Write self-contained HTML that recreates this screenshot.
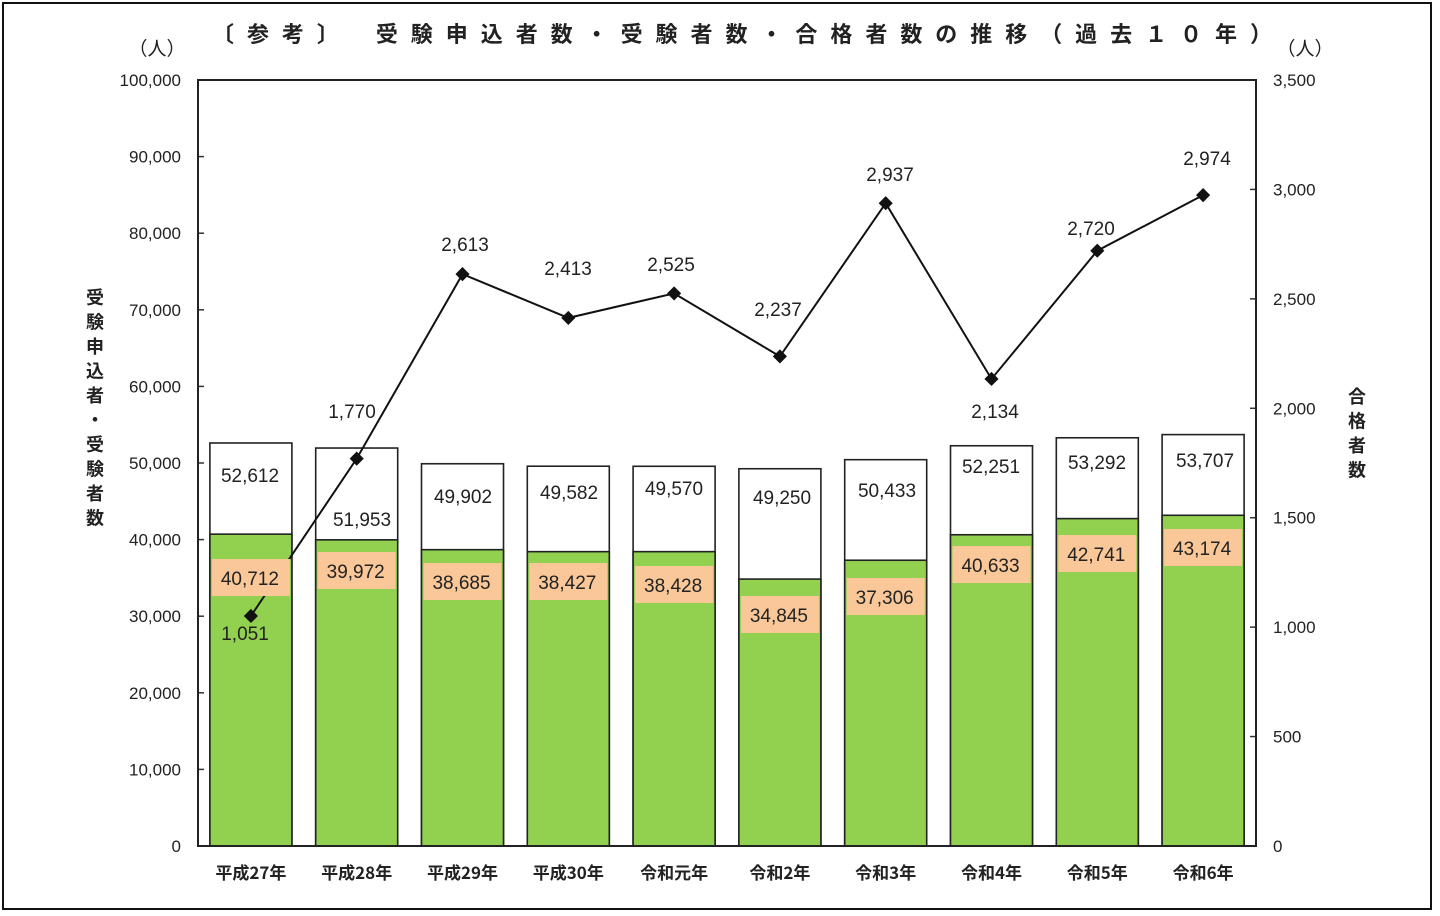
<!DOCTYPE html>
<html><head><meta charset="utf-8"><style>
html,body{margin:0;padding:0;background:#fff;}
svg{display:block;font-family:"Liberation Sans","Noto Sans CJK JP",sans-serif;}
</style></head><body>
<svg id="c" width="1440" height="916" viewBox="0 0 1440 916" xmlns="http://www.w3.org/2000/svg">
<rect x="3" y="3" width="1428" height="906" fill="#fff" stroke="#111" stroke-width="2"/>
<text x="212" y="42" font-size="22" font-weight="bold" fill="#222" textLength="1060" lengthAdjust="spacing" font-family="'Noto Sans CJK JP',sans-serif">〔参考〕　受験申込者数・受験者数・合格者数の推移（過去１０年）</text>
<text x="157" y="55" font-size="19" fill="#222" text-anchor="middle" font-family="'Noto Sans CJK JP',sans-serif">（人）</text>
<text x="1305" y="55" font-size="19" fill="#222" text-anchor="middle" font-family="'Noto Sans CJK JP',sans-serif">（人）</text>
<g id="g"></g>
</svg>
<script>
const g=document.getElementById('g');let s='';
const L=198,R=1256,T=80,B=846,H=766;
const yl=v=>B-v*H/100000, yr=v=>B-v*H/3500;
// left ticks
for(let i=0;i<=10;i++){const y=yl(i*10000);
 s+=`<text x="181" y="${y+6}" font-size="17" fill="#222" text-anchor="end">${(i*10000).toLocaleString('en-US')}</text>`;
 s+=`<line x1="${L}" y1="${y}" x2="${L+6}" y2="${y}" stroke="#333" stroke-width="1.5"/>`;}
for(let i=0;i<=7;i++){const v=i*500,y=yr(v);
 s+=`<text x="1273" y="${y+6}" font-size="17" fill="#222">${v.toLocaleString('en-US')}</text>`;
 s+=`<line x1="${R-6}" y1="${y}" x2="${R}" y2="${y}" stroke="#333" stroke-width="1.5"/>`;}
const cats=['平成27年','平成28年','平成29年','平成30年','令和元年','令和2年','令和3年','令和4年','令和5年','令和6年'];
const tot=[52612,51953,49902,49582,49570,49250,50433,52251,53292,53707];
const ex=[40712,39972,38685,38427,38428,34845,37306,40633,42741,43174];
const ps=[1051,1770,2613,2413,2525,2237,2937,2134,2720,2974];
const oy=[578,571,582,582,585,615,597,565,554,548];
const wl=[[250,475],[362,519],[463,496],[569,492],[674,488],[782,497],[887,490],[991,466],[1097,462],[1205,460]];
const pl=[[245,633],[352,411],[465,244],[568,268],[671,264],[778,309],[890,174],[995,411],[1091,228],[1207,158]];
const cx=i=>L+105.8*(i+0.5);
let bars='',labs='',pts=[];
for(let i=0;i<10;i++){const x=cx(i)-41;
 bars+=`<rect x="${x}" y="${yl(tot[i])}" width="82" height="${B-yl(tot[i])}" fill="#fff" stroke="#222" stroke-width="1.6"/>`;
 bars+=`<rect x="${x}" y="${yl(ex[i])}" width="82" height="${B-yl(ex[i])}" fill="#92d050" stroke="#222" stroke-width="1.6"/>`;
 bars+=`<text x="${wl[i][0]}" y="${wl[i][1]+7}" font-size="19" fill="#222" text-anchor="middle">${tot[i].toLocaleString('en-US')}</text>`;
 labs+=`<rect x="${cx(i)-39}" y="${oy[i]-19}" width="78" height="37" fill="#fac898"/>`;
 labs+=`<text x="${cx(i)-1}" y="${oy[i]+7}" font-size="19" fill="#222" text-anchor="middle">${ex[i].toLocaleString('en-US')}</text>`;
 pts.push([cx(i),yr(ps[i])]);}
s+=bars;
s+=`<polyline points="${pts.map(p=>p.join(',')).join(' ')}" fill="none" stroke="#111" stroke-width="2"/>`;
for(const p of pts) s+=`<rect x="${p[0]-5}" y="${p[1]-5}" width="10" height="10" fill="#111" transform="rotate(45 ${p[0]} ${p[1]})"/>`;
s+=labs;
for(let i=0;i<10;i++){
 s+=`<text x="${pl[i][0]}" y="${pl[i][1]+7}" font-size="19" fill="#222" text-anchor="middle">${ps[i].toLocaleString('en-US')}</text>`;
 s+=`<text x="${cx(i)}" y="879" font-size="17" font-weight="bold" fill="#222" text-anchor="middle" font-family="'Noto Sans CJK JP',sans-serif">${cats[i]}</text>`;}
s+=`<rect x="${L}" y="${T}" width="${R-L}" height="${B-T}" fill="none" stroke="#222" stroke-width="2"/>`;
// vertical axis titles
const vt=(x,y0,str,dy)=>{let o='';[...str].forEach((c,k)=>o+=`<text x="${x}" y="${y0+k*dy}" font-size="18" font-weight="bold" fill="#222" text-anchor="middle" font-family="'Noto Sans CJK JP',sans-serif">${c}</text>`);return o;};
s+=vt(95,304,'受験申込者・受験者数',24.5);
s+=vt(1357,403,'合格者数',24.5);
g.innerHTML=s;
</script>
</body></html>
